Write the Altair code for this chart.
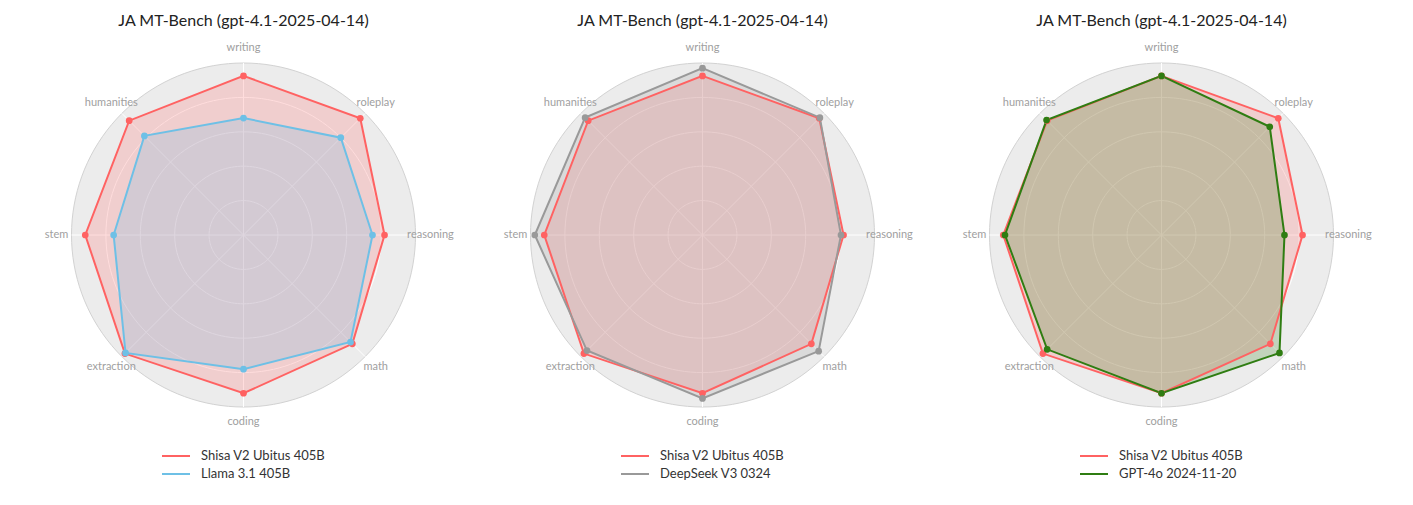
import altair as alt
import pandas as pd

# ---------------- data ----------------
categories = ["writing", "roleplay", "reasoning", "math", "coding", "extraction", "stem", "humanities"]
shisa_name = "Shisa V2 Ubitus 405B"
shisa = [9.25, 9.6, 8.2, 8.95, 9.2, 9.75, 9.2, 9.4]
llama_name = "Llama 3.1 405B"
llama = [6.8, 8.0, 7.5, 8.8, 7.8, 9.7, 7.55, 8.15]
deepseek_name = "DeepSeek V3 0324"
deepseek = [9.7, 9.65, 8.05, 9.55, 9.5, 9.5, 9.75, 9.65]
gpt_name = "GPT-4o 2024-11-20"
gpt4o = [9.25, 8.9, 7.15, 9.7, 9.2, 9.4, 9.1, 9.45]
grid_levels = [2, 4, 6, 8]
r_max = 10
title_text = "JA MT-Bench (gpt-4.1-2025-04-14)"

# ---------------- styles ----------------
SHISA_COLOR = "#ff6262"
FONT = "Lato"
R_PX = 172
PPU = R_PX / r_max
W, H = 441, 402
XD = W / 2 / PPU
YD = H / 2 / PPU
LABEL_R = 10.87
N = len(categories)
STEPS = 144

xs = alt.Scale(domain=[-XD, XD], nice=False, zero=False)
ys = alt.Scale(domain=[-YD, YD], nice=False, zero=False)

cat_df = pd.DataFrame({"category": categories, "idx": list(range(N))})
ring_df = pd.DataFrame(
    [(lv, k) for lv in grid_levels + [r_max] for k in range(STEPS)], columns=["level", "k"]
)
ANG = f"datum.idx * 2 * PI / {N}"
RANG = f"datum.k * 2 * PI / {STEPS}"


def X(field):
    return alt.X(field, scale=xs, axis=None)


def Y(field):
    return alt.Y(field, scale=ys, axis=None)


def legend():
    return alt.Legend(
        title=None, orient="none", legendX=138, legendY=413,
        symbolType="stroke", symbolSize=784, symbolStrokeWidth=2, symbolOpacity=1,
        labelFont=FONT, labelFontSize=13, labelColor="#333333",
        labelOffset=10, rowPadding=0, padding=0, clipHeight=18,
    )


def panel(other_name, other_vals, other_color):
    rows = []
    for name, vals in [(shisa_name, shisa), (other_name, other_vals)]:
        for i, (c, v) in enumerate(zip(categories, vals)):
            rows.append({"series": name, "category": c, "idx": i, "value": v})
    df = pd.DataFrame(rows)
    cscale = alt.Scale(domain=[shisa_name, other_name], range=[SHISA_COLOR, other_color])

    rings = alt.Chart(ring_df).transform_calculate(
        a=RANG, rx="datum.level * sin(datum.a)", ry="datum.level * cos(datum.a)"
    )
    bg = rings.transform_filter(f"datum.level == {r_max}").mark_line(
        interpolate="linear-closed", strokeWidth=1
    ).encode(
        x=X("rx:Q"), y=Y("ry:Q"), order=alt.Order("k:Q"),
        fill=alt.value("#ececec"), stroke=alt.value("#d2d2d2"),
    )
    grid = rings.transform_filter(f"datum.level < {r_max}").mark_line(
        interpolate="linear-closed", strokeWidth=1
    ).encode(
        x=X("rx:Q"), y=Y("ry:Q"), order=alt.Order("k:Q"), detail="level:N",
        stroke=alt.value("white"),
    )

    spokes = alt.Chart(cat_df).transform_calculate(
        a=ANG, x0="0", y0="0",
        x1=f"{r_max} * sin(datum.a)", y1=f"{r_max} * cos(datum.a)"
    ).mark_rule(color="white", strokeWidth=1).encode(
        x=X("x0:Q"), y=Y("y0:Q"), x2="x1:Q", y2="y1:Q",
    )

    labels = alt.Chart(cat_df).transform_calculate(
        a=ANG, lx=f"{LABEL_R} * sin(datum.a)", ly=f"{LABEL_R} * cos(datum.a)"
    ).mark_text(font=FONT, fontSize=11, color="#a0a0a0", align="center", baseline="middle").encode(
        x=X("lx:Q"), y=Y("ly:Q"), text="category:N",
    )

    base = alt.Chart(df).transform_calculate(
        a=ANG, px="datum.value * sin(datum.a)", py="datum.value * cos(datum.a)"
    )
    fills = base.mark_line(interpolate="linear-closed", strokeOpacity=0, fillOpacity=0.22).encode(
        x=X("px:Q"), y=Y("py:Q"), order=alt.Order("idx:Q"), detail="series:N",
        fill=alt.Fill("series:N", scale=cscale, legend=legend()),
    )
    lines = base.mark_line(interpolate="linear-closed", strokeWidth=2).encode(
        x=X("px:Q"), y=Y("py:Q"), order=alt.Order("idx:Q"),
        color=alt.Color("series:N", scale=cscale, legend=legend()),
    )
    points = base.mark_point(filled=True, size=45, opacity=1).encode(
        x=X("px:Q"), y=Y("py:Q"),
        color=alt.Color("series:N", scale=cscale, legend=legend()),
    )

    return alt.layer(bg, grid, spokes, labels, fills, lines, points).properties(
        width=W, height=H,
        title=alt.Title(title_text, font=FONT, fontSize=16, fontWeight="normal",
                        color="#222222", anchor="middle", offset=5),
    )


chart = alt.hconcat(
    panel(llama_name, llama, "#6ec0e6"),
    panel(deepseek_name, deepseek, "#999999"),
    panel(gpt_name, gpt4o, "#2f7d12"),
    spacing=18,
    bounds="flush",
).resolve_scale(color="independent", fill="independent").properties(
    padding={"left": 15, "top": 5, "right": 5, "bottom": 5}
).configure(background="white").configure_view(stroke=None)

chart.save("out.html", embed_options={"renderer": "svg", "actions": False})
